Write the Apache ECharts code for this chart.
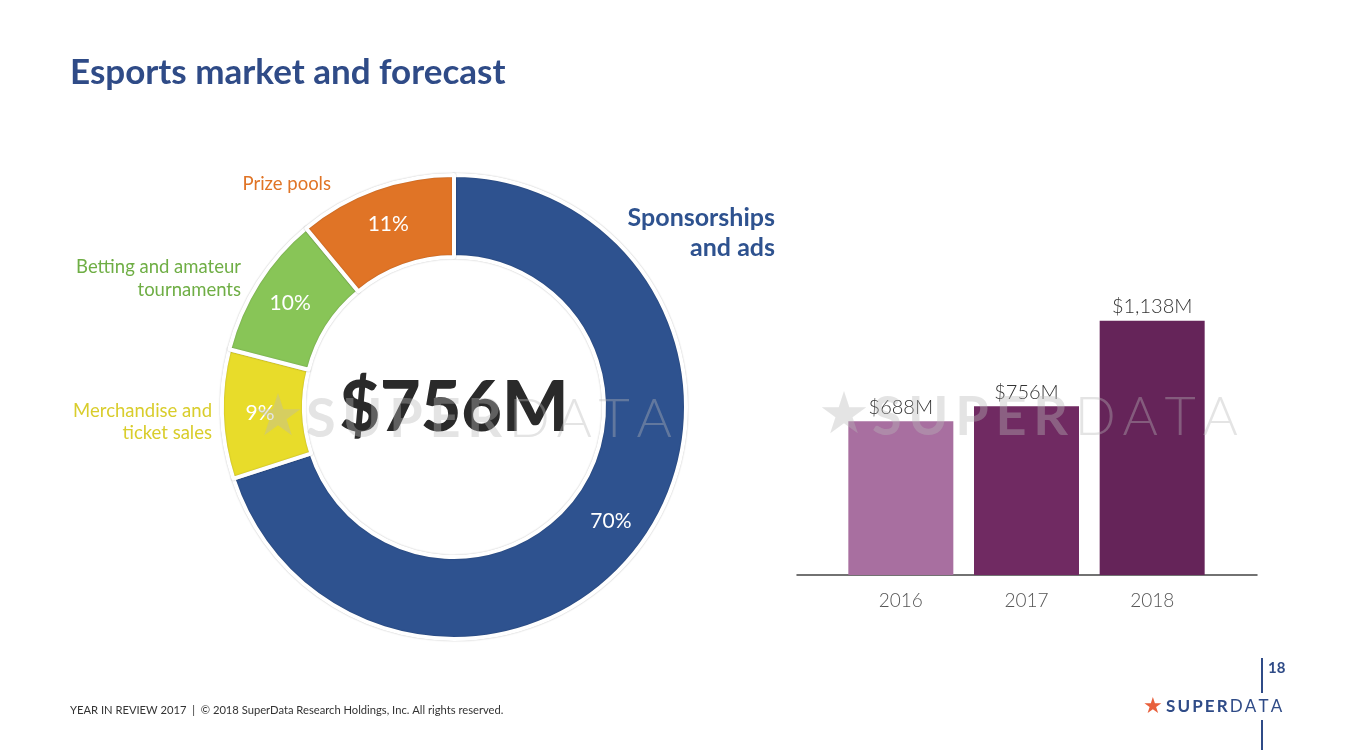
<!DOCTYPE html>
<html>
<head>
<meta charset="utf-8">
<script src="https://cdn.jsdelivr.net/npm/echarts@6/dist/echarts.min.js"></script>
<style>
html,body{margin:0;padding:0;background:#fff;}
#chart{width:1355px;height:750px;}
</style>
</head>
<body>
<div id="chart"></div>
<script>
// ---- data ----
const pieCategories = ['Sponsorships and ads', 'Merchandise and ticket sales', 'Betting and amateur tournaments', 'Prize pools'];
const pieShares = [70, 9, 10, 11];
const pieLabelLines = [['Sponsorships', 'and ads'], ['Merchandise and', 'ticket sales'], ['Betting and amateur', 'tournaments'], ['Prize pools']];
const pieTotalLabel = '$756M';
const barYears = ['2016', '2017', '2018'];
const barValues = [688, 756, 1138];
const titleText = 'Esports market and forecast';
const footerText = 'YEAR IN REVIEW 2017  |  \u00A9 2018 SuperData Research Holdings, Inc. All rights reserved.';
const pageNumber = '18';

// ---- styles ----
const pieColors = ['#2E528F', '#E8DC2A', '#88C557', '#E07426'];
const pieTextColors = ['#2E528F', '#D9CD2C', '#6FAE45', '#E07426'];
const barColors = ['#A86FA0', '#702A62', '#652459'];
const navy = '#2F4B87';
const FONT = 'Lato, "Open Sans", sans-serif';

const chart = echarts.init(document.getElementById('chart'));

const pieCenter = [454, 407];

// outside label placements (layout only)
const labelPlace = [
  {x: 775, y: 233, size: 25, weight: 'bold', lh: 30},
  {x: 212, y: 422, size: 18.5, weight: 'normal', lh: 22},
  {x: 241, y: 278.5, size: 18.5, weight: 'normal', lh: 23},
  {x: 331, y: 184, size: 18.5, weight: 'normal', lh: 22}
];

function fmtMoney(v) {
  return '$' + v.toLocaleString('en-US') + 'M';
}

const wmFill = 'rgba(185,185,185,0.38)';
const hs = '\u200A';
const wmText = '{st|\u2605}' + hs + hs + '{b|' + 'SUPER'.split('').join(hs + hs) + hs + hs + '}' + '{l|' + 'DATA'.split('').join(hs + hs) + '}';
const wmRich = {
  st: {fontSize: 58, fontFamily: 'DejaVu Sans', fill: wmFill},
  b: {fontSize: 54, fontWeight: 'bold', fontFamily: FONT, fill: wmFill},
  l: {fontSize: 54, fontWeight: 300, fontFamily: FONT, fill: wmFill}
};

const graphics = [
  {type: 'text', x: 70, y: 73, style: {text: titleText, fontSize: 35, fontWeight: 'bold', fontFamily: FONT, fill: navy, textVerticalAlign: 'middle'}},
  {type: 'text', x: pieCenter[0], y: pieCenter[1] + 1, z: 10, style: {text: pieTotalLabel, fontSize: 70, fontWeight: 900, fontFamily: FONT, fill: '#2a2a2a', textAlign: 'center', textVerticalAlign: 'middle'}},
  {type: 'text', x: 70, y: 710, style: {text: footerText, fontSize: 11.2, fontFamily: FONT, fill: '#333', textVerticalAlign: 'middle'}},
  {type: 'line', shape: {x1: 1262, y1: 658, x2: 1262, y2: 693}, style: {stroke: navy, lineWidth: 2}},
  {type: 'line', shape: {x1: 1262, y1: 720, x2: 1262, y2: 750}, style: {stroke: navy, lineWidth: 2}},
  {type: 'text', x: 1268, y: 668, style: {text: pageNumber, fontSize: 15, fontWeight: 'bold', fontFamily: FONT, fill: navy, textVerticalAlign: 'middle'}},
  {type: 'text', x: 1143, y: 707, style: {text: '\u2605', fontSize: 22, fontFamily: 'DejaVu Sans', fill: '#E8603C', textVerticalAlign: 'middle'}},
  {type: 'text', x: 1166, y: 707, style: {
    text: '{b|' + 'SUPER'.split('').join(hs + hs) + hs + hs + '}{l|' + 'DATA'.split('').join(hs + hs) + '}',
    textVerticalAlign: 'middle',
    rich: {
      b: {fontSize: 17, fontWeight: 'bold', fontFamily: FONT, fill: navy},
      l: {fontSize: 17, fontWeight: 'normal', fontFamily: FONT, fill: navy}
    }
  }},
  // watermarks
  {type: 'text', x: 252, y: 420, z: 100, silent: true, style: {text: wmText, textVerticalAlign: 'middle', rich: wmRich}},
  {type: 'text', x: 818, y: 418, z: 100, silent: true, style: {text: wmText, textVerticalAlign: 'middle', rich: wmRich}}
];

pieLabelLines.forEach((lines, i) => {
  const p = labelPlace[i];
  graphics.push({type: 'text', x: p.x, y: p.y, style: {
    text: lines.join('\n'), fontSize: p.size, fontWeight: p.weight, fontFamily: FONT, fill: pieTextColors[i],
    textAlign: 'right', textVerticalAlign: 'middle', lineHeight: p.lh
  }});
});

const option = {
  backgroundColor: '#fff',
  animation: false,
  textStyle: {fontFamily: FONT},
  grid: [
    {left: 838, width: 377, top: 307, bottom: 175},
    {left: 797, width: 460, top: 307, bottom: 175}
  ],
  xAxis: [
    {type: 'category', gridIndex: 0, data: barYears,
      axisLine: {show: false}, axisTick: {show: false},
      axisLabel: {margin: 16, fontSize: 19, fontWeight: 300, fontFamily: FONT, color: '#555'}},
    {type: 'value', gridIndex: 1, min: 0, max: 1,
      axisLine: {show: true, lineStyle: {color: '#444', width: 1.5}}, axisTick: {show: false},
      axisLabel: {show: false}, splitLine: {show: false}}
  ],
  yAxis: [
    {type: 'value', gridIndex: 0, min: 0, max: 1200, show: false, splitLine: {show: false}},
    {type: 'value', gridIndex: 1, min: 0, max: 1, show: false, splitLine: {show: false}}
  ],
  series: [
    {
      type: 'pie',
      center: pieCenter,
      radius: [150, 232],
      startAngle: 90,
      clockwise: true,
      avoidLabelOverlap: false,
      silent: true,
      itemStyle: {borderColor: '#fff', borderWidth: 4, shadowBlur: 1.5, shadowColor: 'rgba(0,0,0,0.28)'},
      label: {show: true, position: 'inside', formatter: '{c}%', color: '#fff', fontSize: 21, fontFamily: FONT},
      labelLine: {show: false},
      data: pieCategories.map((n, i) => ({name: n, value: pieShares[i], itemStyle: {color: pieColors[i]}}))
    },
    {
      type: 'bar',
      xAxisIndex: 0, yAxisIndex: 0,
      barWidth: 105,
      silent: true,
      data: barValues.map((v, i) => ({value: v, itemStyle: {color: barColors[i]}})),
      label: {show: true, position: 'top', distance: 4, formatter: p => fmtMoney(p.value),
        fontSize: 20, fontWeight: 300, fontFamily: FONT, color: '#333'}
    }
  ],
  graphic: graphics
};

chart.setOption(option);
</script>
</body>
</html>
